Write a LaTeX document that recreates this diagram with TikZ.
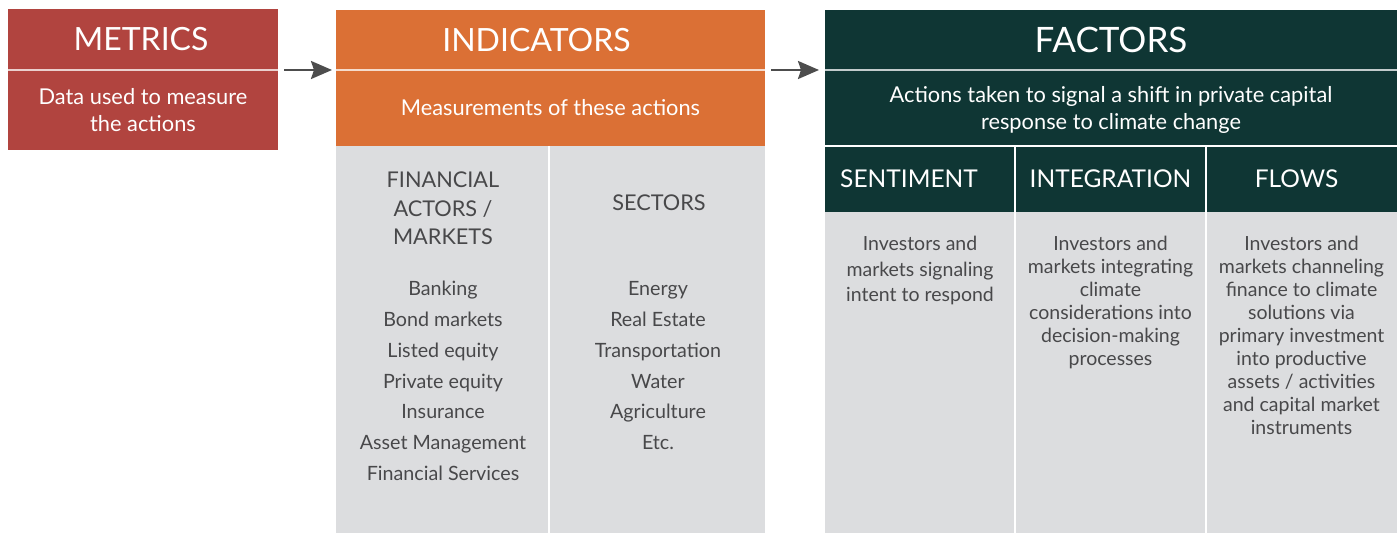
\documentclass[tikz,border=0pt]{standalone}
\usepackage{fontspec}
\setmainfont{Lato}
\usepackage{xcolor}
\usetikzlibrary{positioning, arrows.meta}

\definecolor{metricred}{HTML}{B1443F}
\definecolor{indorange}{HTML}{DB7035}
\definecolor{factgreen}{HTML}{0F3634}
\definecolor{panelgray}{HTML}{DCDDDF}
\definecolor{inktext}{HTML}{48484A}
\definecolor{arrowgray}{HTML}{4D4D4D}

\begin{document}
\begin{tikzpicture}[x=1pt, y=-1pt,
    panel/.style={inner sep=0pt, outer sep=0pt, anchor=north west},
    boxtitle/.style={text=white, font=\fontsize{32}{32}\selectfont},
    subtitle/.style={text=white, align=center, font=\fontsize{21.8}{27}\selectfont},
    colhead/.style={text=inktext, align=center, inner sep=0pt, font=\fontsize{21.7}{28.7}\selectfont},
    listitem/.style={text=inktext, inner sep=0pt, anchor=base, font=\fontsize{19.7}{19.7}\selectfont},
    cellhead/.style={text=white, inner sep=0pt, font=\fontsize{24.5}{24.5}\selectfont},
    celltext/.style={text=inktext, align=center, inner sep=0pt, font=\fontsize{19.5}{23}\selectfont},
    divider/.style={draw=white, draw opacity=0.75, line width=1.2pt},
    colrule/.style={draw=white, line width=1.5pt},
    flow/.style={draw=arrowgray, line width=2.3pt, -{Stealth[length=21pt, width=18pt, inset=3pt]}}
]
    \useasboundingbox (0,0) rectangle (1400,534);

    % Metrics
    \node[panel, fill=metricred, minimum width=270pt, minimum height=61pt] (mtitle) at (8,9) {};
    \node[boxtitle] (mtitletext) at ([xshift=-2pt]mtitle.center) {METRICS};
    \node[panel, fill=metricred, minimum width=270pt, minimum height=80pt, subtitle] (msub) at (mtitle.south west) {Data used to measure\\the actions};
    \draw[divider] (mtitle.south west) -- (mtitle.south east);

    % Indicators
    \node[panel, fill=indorange, minimum width=429pt, minimum height=60pt] (ititle) at (336,10) {};
    \node[boxtitle] (ititletext) at ([xshift=-14pt]ititle.center) {INDICATORS};
    \node[panel, fill=indorange, minimum width=429pt, minimum height=76pt, subtitle] (isub) at (ititle.south west) {Measurements of these actions};
    \draw[divider] (ititle.south west) -- (ititle.south east);
    \node[panel, fill=panelgray, minimum width=213pt, minimum height=387pt] (iactors) at (isub.south west) {};
    \node[panel, fill=panelgray, minimum width=216pt, minimum height=387pt] (isectors) at (iactors.north east) {};
    \draw[colrule] (iactors.north east) -- (iactors.south east);

    \node[colhead] (actorshead) at (443,208.5) {FINANCIAL\\ACTORS /\\MARKETS};
    \node[colhead, anchor=base] (sectorshead) at (659,211) {SECTORS};
    \foreach \name [count=\i] in {Banking, Bond markets, Listed equity, Private equity, Insurance, Asset Management, Financial Services}
        \node[listitem] (actor\i) at (443,{296+30.7*(\i-1)}) {\name};
    \foreach \name [count=\i] in {Energy, Real Estate, Transportation, Water, Agriculture, Etc.}
        \node[listitem] (sector\i) at (658,{296+30.7*(\i-1)}) {\name};

    % Factors
    \node[panel, fill=factgreen, minimum width=572pt, minimum height=60pt, boxtitle, font=\fontsize{35}{35}\selectfont] (ftitle) at (825,10) {FACTORS};
    \node[panel, fill=factgreen, minimum width=572pt, minimum height=76pt, subtitle] (fsub) at (ftitle.south west) {};
    \node[subtitle] (fsubtext) at ([yshift=-2pt]fsub.center) {Actions taken to signal a shift in private capital\\response to climate change};
    \draw[divider] (ftitle.south west) -- (ftitle.south east);

    \node[panel, fill=factgreen, minimum width=190pt, minimum height=66pt] (fsenthead) at (fsub.south west) {};
    \node[panel, fill=factgreen, minimum width=191pt, minimum height=66pt] (finthead) at (fsenthead.north east) {};
    \node[panel, fill=factgreen, minimum width=191pt, minimum height=66pt] (fflowhead) at (finthead.north east) {};
    \node[cellhead] at ([xshift=-11pt]fsenthead.center) {SENTIMENT};
    \node[cellhead] at (finthead.center) {INTEGRATION};
    \node[cellhead] at ([xshift=-5pt]fflowhead.center) {FLOWS};
    \node[panel, fill=panelgray, minimum width=190pt, minimum height=321pt] (fsent) at (fsenthead.south west) {};
    \node[panel, fill=panelgray, minimum width=191pt, minimum height=321pt] (fint) at (fsent.north east) {};
    \node[panel, fill=panelgray, minimum width=191pt, minimum height=321pt] (fflow) at (fint.north east) {};
    \draw[colrule] (fsub.south west) -- (fsub.south east);
    \draw[colrule] (fsenthead.north east) -- (fsent.south east);
    \draw[colrule] (finthead.north east) -- (fint.south east);

    \node[celltext, font=\fontsize{19.5}{25.5}\selectfont, below=24pt of fsent.north] (senttext) {Investors and\\markets signaling\\intent to respond};
    \node[celltext, below=24pt of fint.north] (inttext) {Investors and\\markets integrating\\climate\\considerations into\\decision-making\\processes};
    \node[celltext, below=24pt of fflow.north] (flowtext) {Investors and\\markets channeling\\finance to climate\\solutions via\\primary investment\\into productive\\assets / activities\\and capital market\\instruments};

    % Arrows
    \draw[flow] ([xshift=6pt]mtitle.south east) -- ([xshift=-4pt]ititle.south west);
    \draw[flow] ([xshift=6pt]ititle.south east) -- ([xshift=-6pt]ftitle.south west);
\end{tikzpicture}
\end{document}
